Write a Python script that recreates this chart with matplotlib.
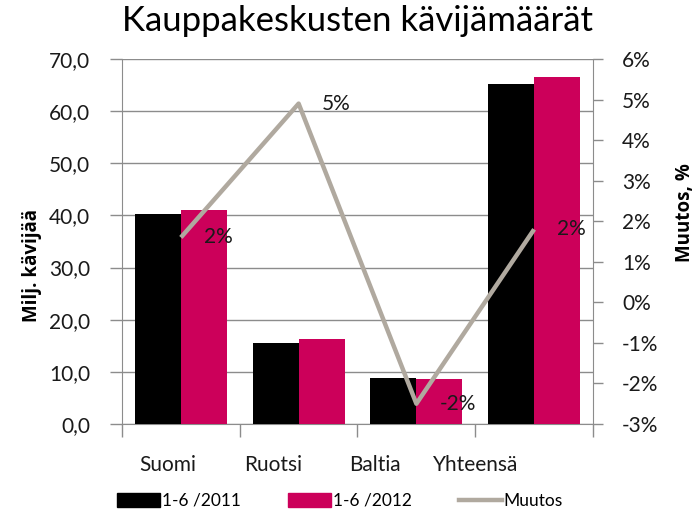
import matplotlib
matplotlib.use("Agg")
import matplotlib.pyplot as plt
import numpy as np
from matplotlib.ticker import FuncFormatter, FixedLocator
from matplotlib.patches import Patch
from matplotlib.lines import Line2D

plt.rcParams['font.family'] = ['Lato', 'DejaVu Sans']

categories = ["Suomi", "Ruotsi", "Baltia", "Yhteensä"]
visitors_2011 = [40.3, 15.5, 8.9, 65.3]
visitors_2012 = [41.1, 16.3, 8.6, 66.5]
change_pct = [1.6, 4.9, -2.5, 1.8]
change_labels = ["2%", "5%", "-2%", "2%"]
series_names = ["1-6 /2011", "1-6 /2012", "Muutos"]
title = "Kauppakeskusten kävijämäärät"

c_black = "#000000"
c_pink = "#CC005A"
c_line = "#B0A99F"
c_grid = "#8C8C8C"

fig = plt.figure(figsize=(6.99, 5.2), dpi=100)
ax = fig.add_axes([122/699, 96/520, 471/699, 365/520])
ax2 = ax.twinx()

x = np.arange(len(categories))
w = 0.39
ax.bar(x - w/2, visitors_2011, width=w, color=c_black, zorder=3)
ax.bar(x + w/2, visitors_2012, width=w, color=c_pink, zorder=3)

ax.set_xlim(-0.5, len(categories) - 0.5)
ax.set_ylim(0, 70)
ax.set_yticks(np.arange(0, 71, 10))
ax.yaxis.set_major_formatter(FuncFormatter(lambda v, p: f"{v:.1f}".replace(".", ",")))
ax.grid(axis='y', color=c_grid, linewidth=1.0, zorder=0)
ax.set_axisbelow(True)

# x ticks between categories, labels as minor ticks
ax.xaxis.remove_overlapping_locs = False
ax.xaxis.set_major_locator(FixedLocator(np.arange(-0.5, len(categories), 1.0)))
ax.xaxis.set_major_formatter(FuncFormatter(lambda v, p: ""))
label_shift = [-0.11, -0.22, -0.35, -0.50]
ax.xaxis.set_minor_locator(FixedLocator(x + np.array(label_shift)))
ax.set_xticklabels(categories, minor=True)
ax.tick_params(axis='x', which='major', length=9, width=1, color=c_grid, direction='out')
ax.tick_params(axis='x', which='minor', length=0, pad=22, labelsize=15, labelcolor='#1a1a1a')
ax.tick_params(axis='y', length=9, width=1, color=c_grid, pad=14, labelsize=15, labelcolor='#1a1a1a')

for sp in ['top', 'right']:
    ax.spines[sp].set_visible(False)
for sp in ['left', 'bottom']:
    ax.spines[sp].set_color(c_grid)
for sp in ['top', 'left', 'bottom']:
    ax2.spines[sp].set_visible(False)
ax2.spines['right'].set_color(c_grid)

ax2.plot(x, change_pct, color=c_line, linewidth=3.2, zorder=4, solid_capstyle='butt')
ax2.set_ylim(-3, 6)
ax2.set_yticks(np.arange(-3, 7, 1))
ax2.yaxis.set_major_formatter(FuncFormatter(lambda v, p: f"{int(round(v))}%"))
ax2.tick_params(axis='y', length=7, width=1, color=c_grid, pad=14, labelsize=15, labelcolor='#1a1a1a')

for xi, yi, lab in zip(x, change_pct, change_labels):
    ax2.annotate(lab, (xi, yi), xytext=(16.5, 0), textcoords='offset points',
                 ha='left', va='center', fontsize=15, color='#1a1a1a', zorder=5)

fig.text(32/699, 1 - 266/520, "Milj. kävijää", rotation=90, ha='center', va='center',
         fontsize=13.5, fontweight='bold', family=['Open Sans', 'DejaVu Sans'])
fig.text(685/699, 1 - 213/520, "Muutos, %", rotation=90, ha='center', va='center',
         fontsize=13.5, fontweight='bold', family=['Open Sans', 'DejaVu Sans'])
fig.text(357/699, 1 - 21/520, title, ha='center', va='center', fontsize=25, color='#000000')

handles = [Patch(color=c_black), Patch(color=c_pink), Line2D([0], [0], color=c_line, linewidth=3.2)]
fig.legend(handles, series_names, loc='center', bbox_to_anchor=(340/699, 1 - 501/520), ncol=3,
           frameon=False, fontsize=12.5, handlelength=2.5, handleheight=0.8, handletextpad=0.1,
           columnspacing=2.7)

fig.savefig("out.png", dpi=100)
